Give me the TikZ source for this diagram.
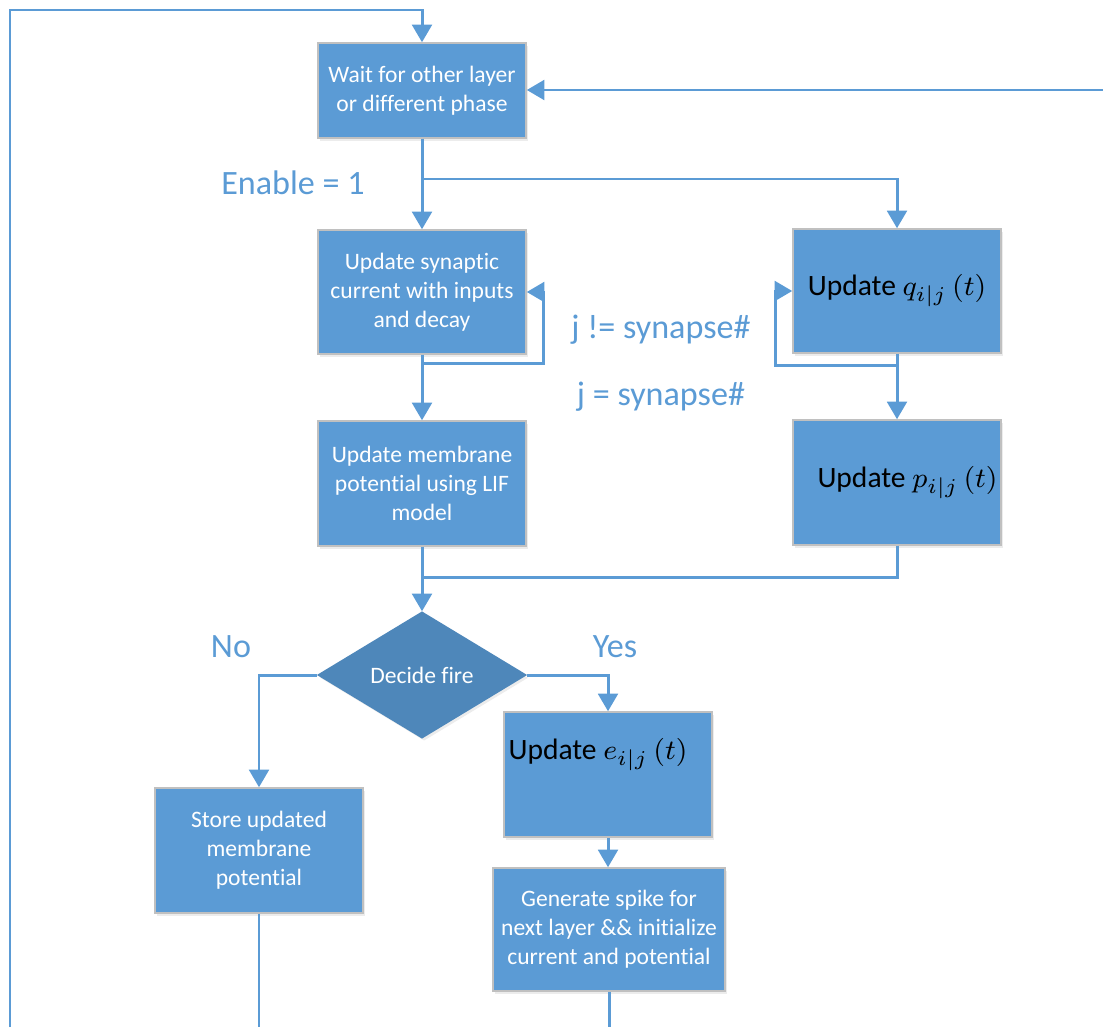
\documentclass[tikz,border=0pt]{standalone}
\usepackage{fontspec}
\setmainfont[Ligatures=NoCommon]{Carlito}
\usepackage{amsmath}
\usepackage{tikz}
\usetikzlibrary{arrows.meta,shapes.geometric,calc,shadows}
\definecolor{lineblue}{HTML}{5B9BD5}
\definecolor{boxblue}{HTML}{5B9BD5}
\definecolor{darkblue}{HTML}{4E87BA}
\definecolor{edgegray}{HTML}{C0C0C0}

\begin{document}
\begin{tikzpicture}[x=0.01cm,y=-0.01cm,
    box/.style={draw=edgegray,line width=0.4pt,fill=boxblue,text=white,align=center,
        minimum width=2.08cm,minimum height=1.25cm,inner sep=1pt,
        font=\fontsize{6.7}{8.2}\selectfont,
        drop shadow={opacity=0.15,shadow xshift=0.6pt,shadow yshift=-0.8pt}},
    mathbox/.style={box,text=black,font=\fontsize{8.4}{10}\selectfont},
    decide/.style={diamond,draw=darkblue,line width=0.4pt,fill=darkblue,text=white,
        minimum width=2.08cm,minimum height=1.26cm,inner sep=0pt,
        font=\fontsize{6.7}{8.2}\selectfont,
        drop shadow={opacity=0.15,shadow xshift=0.6pt,shadow yshift=-0.8pt}},
    lbl/.style={text=lineblue,font=\fontsize{9.7}{11}\selectfont},
    wire/.style={draw=lineblue,line width=0.85pt},
    arr/.style={wire,-{Triangle[width=5.6pt,length=5pt]}}]
    \useasboundingbox (0,0) rectangle (1103,1027);

    % boxes
    \node[box,minimum height=0.95cm] (wait) at (422,90.5) {Wait for other layer\\or different phase};
    \node[box,minimum height=1.24cm] (syn) at (422,292) {Update synaptic\\current with inputs\\and decay};
    \node[box] (mem) at (422,483.5) {Update membrane\\potential using LIF\\model};
    \node[mathbox,minimum height=1.24cm] (q) at (897,291) {\raisebox{2pt}{Update $q_{i|j}\,(t)$}};
    \node[mathbox] (p) at (897,482.5) {\hspace{6pt}Update $p_{i|j}\,(t)$};
    \node[decide] (fire) at (422,675) {Decide fire};
    \node[mathbox] (upe) at (608,774.5) {};
    \node[text=black,font=\fontsize{8.4}{10}\selectfont] (upetxt) at (598,755) {Update $e_{i|j}\,(t)$};
    \node[box] (store) at (259,850.5) {Store updated\\membrane\\potential};
    \node[box,minimum width=2.32cm,minimum height=1.23cm] (gen) at (609,929.5) {Generate spike for\\next layer \&\& initialize\\current and potential};

    % labels
    \node[lbl] (enable) at (293,183) {Enable = 1};
    \node[lbl] (neq) at (661,330) {j != synapse\#};
    \node[lbl] (eq) at (661,397) {j = synapse\#};
    \node[lbl] (no) at (231,647) {No};
    \node[lbl] (yes) at (615,647) {Yes};

    % free ends
    \coordinate (botL) at (10,1027);
    \coordinate (topR) at (422,10);
    \coordinate (rin) at (1103,90);
    \coordinate (split) at (422,179);
    \coordinate (merge) at (422,577);

    % connectors
    \draw[arr] (botL) |- (topR) -- (wait.north);
    \draw[arr] (rin) -- (wait.east |- rin);
    \draw[arr] (wait.south) -- (syn.north);
    \draw[arr] (split) -| (q.north);
    \draw[arr] ($(syn.south)+(0,9)$) -| ($(syn.east)+(17,0)$) -- (syn.east);
    \draw[arr] (syn.south) -- (mem.north);
    \draw[arr] ($(q.south)+(0,12)$) -| ($(q.west)+(-17,0)$) -- (q.west);
    \draw[arr] (q.south) -- (p.north);
    \draw[wire] (p.south) |- (merge);
    \draw[arr] (mem.south) -- (fire.north);
    \draw[arr] (fire.west) -| (store.north);
    \draw[arr] (fire.east) -| (upe.north);
    \draw[arr] (upe.south) -- (upe.south |- gen.north);
    \draw[wire] (store.south) -- (store.south |- botL);
    \draw[wire] (gen.south) -- (gen.south |- botL);
\end{tikzpicture}
\end{document}
